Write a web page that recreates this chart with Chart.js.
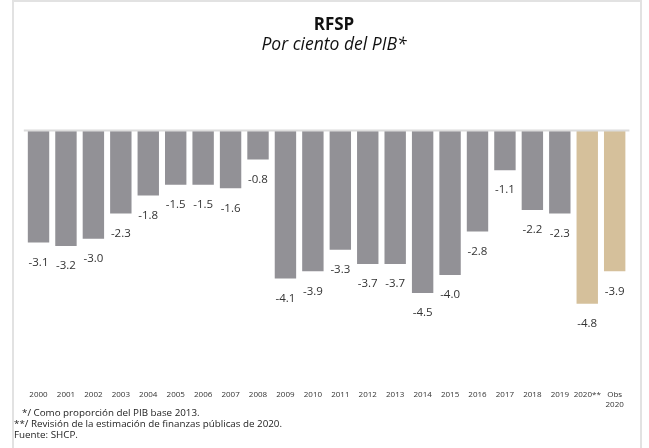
<!DOCTYPE html>
<html><head><meta charset="utf-8">
<script src="https://cdn.jsdelivr.net/npm/chart.js@4.4.0/dist/chart.umd.min.js"></script>
<style>
html,body{margin:0;padding:0;background:#fff;}
#wrap{position:relative;width:649px;height:448px;overflow:hidden;font-family:"Open Sans",sans-serif;}
.ln{position:absolute;background:#e2e2e2;}
#c{position:absolute;left:0;top:0;}
.t{position:absolute;left:234px;width:200px;text-align:center;color:#111;white-space:nowrap;}
.fn{position:absolute;font-size:9.8px;line-height:12px;color:#222;white-space:nowrap;}
</style></head><body>
<div id="wrap">
<div class="ln" style="left:12px;top:0;width:630px;height:2px"></div>
<div class="ln" style="left:12px;top:2px;width:2px;height:446px"></div>
<div class="ln" style="left:640px;top:0;width:2px;height:448px"></div>
<canvas id="c" width="649" height="448"></canvas>
<div class="t" style="top:14px;font-weight:700;font-size:17px;line-height:20px">RFSP</div>
<div class="t" style="top:33px;font-style:italic;font-size:17.5px;line-height:20px">Por ciento del PIB*</div>
<div class="fn" style="left:22px;top:407px">*/ Como proporción del PIB base 2013.</div>
<div class="fn" style="left:14px;top:418px">**/ Revisión de la estimación de finanzas públicas de 2020.</div>
<div class="fn" style="left:14px;top:429px">Fuente: SHCP.</div>
</div>
<script>
const categories = ['2000','2001','2002','2003','2004','2005','2006','2007','2008','2009','2010','2011','2012','2013','2014','2015','2016','2017','2018','2019','2020**',['Obs','2020']];
const values = [-3.1,-3.2,-3.0,-2.3,-1.8,-1.5,-1.5,-1.6,-0.8,-4.1,-3.9,-3.3,-3.7,-3.7,-4.5,-4.0,-2.8,-1.1,-2.2,-2.3,-4.8,-3.9];
const estimateFlags = [0,0,0,0,0,0,0,0,0,0,0,0,0,0,0,0,0,0,0,0,1,1];

const GRAY = '#929196';
const GOLD = '#d5c09b';

const zeroLine = {
  id: 'zeroLine',
  afterDatasetsDraw(chart) {
    const {ctx, chartArea: a, scales: {y}} = chart;
    const py = y.getPixelForValue(0);
    ctx.save();
    ctx.strokeStyle = '#dcdcdc';
    ctx.lineWidth = 2;
    ctx.beginPath();
    ctx.moveTo(a.left - 1, py);
    ctx.lineTo(a.right + 1, py);
    ctx.stroke();
    ctx.restore();
  }
};
const valueLabels = {
  id: 'valueLabels',
  afterDatasetsDraw(chart) {
    const ctx = chart.ctx;
    ctx.save();
    ctx.font = '11.5px "Open Sans"';
    ctx.fillStyle = '#333';
    ctx.textAlign = 'center';
    ctx.textBaseline = 'middle';
    const ds = chart.data.datasets[0];
    chart.getDatasetMeta(0).data.forEach((bar, i) => {
      ctx.fillText(ds.data[i].toFixed(1), bar.x, bar.y + 20);
    });
    ctx.restore();
  }
};

new Chart(document.getElementById('c'), {
  type: 'bar',
  data: {
    labels: categories,
    datasets: [{
      data: values,
      backgroundColor: estimateFlags.map(f => f ? GOLD : GRAY),
      borderWidth: 0,
      barPercentage: 0.78,
      categoryPercentage: 1
    }]
  },
  options: {
    responsive: false,
    animation: false,
    layout: { padding: { left: 24.8, right: 20.6, top: 130.5, bottom: 31.6 } },
    plugins: { legend: { display: false }, tooltip: { enabled: false } },
    scales: {
      x: {
        grid: { display: false, drawTicks: false },
        border: { display: false },
        ticks: { font: { family: 'Open Sans', size: 8 }, color: '#333', padding: 7, maxRotation: 0, autoSkip: false }
      },
      y: { display: false, min: -7, max: 0 }
    }
  },
  plugins: [zeroLine, valueLabels]
});
</script>
</body></html>
